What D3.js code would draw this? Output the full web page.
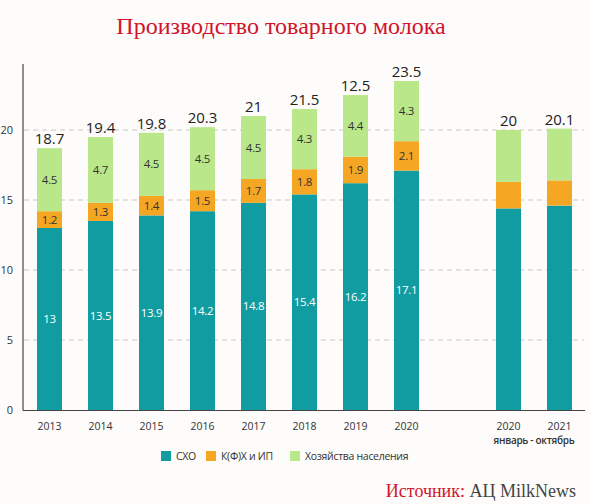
<!DOCTYPE html>
<html>
<head>
<meta charset="utf-8">
<script src="https://cdn.jsdelivr.net/npm/d3@7"></script>
<style>
  body { margin: 0; background: #fdfcfa; }
  svg { display: block; }
</style>
</head>
<body>
<svg id="plot"></svg>
<script>
// data
const categories = ["2013", "2014", "2015", "2016", "2017", "2018", "2019", "2020", "gap", "2020jo", "2021jo"];
const tickLabels = ["2013", "2014", "2015", "2016", "2017", "2018", "2019", "2020", "", "2020", "2021"];
const years = ["2013", "2014", "2015", "2016", "2017", "2018", "2019", "2020", "2020jo", "2021jo"];
const sho = [13, 13.5, 13.9, 14.2, 14.8, 15.4, 16.2, 17.1, 14.4, 14.6];
const kfh = [1.2, 1.3, 1.4, 1.5, 1.7, 1.8, 1.9, 2.1, 1.9, 1.8];
const hoz = [4.5, 4.7, 4.5, 4.5, 4.5, 4.3, 4.4, 4.3, 3.7, 3.7];
const totalLabels = ["18.7", "19.4", "19.8", "20.3", "21", "21.5", "12.5", "23.5", "20", "20.1"];
// segment labels shown only for full years
const showInner = [true, true, true, true, true, true, true, true, false, false];
const seriesNames = ["СХО", "К(Ф)Х и ИП", "Хозяйства населения"];
const colors = ["#109ca0", "#f5a623", "#b9e78a"];
const yTicks = [0, 5, 10, 15, 20];

let width = 590;
let height = 504;

let svg = d3.select('#plot')
    .attr('width', width)
    .attr('height', height)
    .style('background', '#fdfcfa');

let xScale = d3.scaleBand()
    .domain(categories)
    .range([24, 585])
    .paddingInner(0.51)
    .paddingOuter(0.255);

let yScale = d3.scaleLinear()
    .domain([0, 24.6])
    .range([410, 65.6]);

// gridlines
svg.append('g')
    .selectAll('line')
    .data(yTicks.filter(d => d > 0))
    .enter()
    .append('line')
    .attr('x1', 24)
    .attr('x2', 584)
    .attr('y1', d => yScale(d))
    .attr('y2', d => yScale(d))
    .attr('stroke', '#c8c8c8')
    .attr('stroke-width', 1)
    .attr('stroke-dasharray', '5,4');

// y tick labels
svg.append('g')
    .selectAll('text')
    .data(yTicks)
    .enter()
    .append('text')
    .attr('x', 13)
    .attr('y', d => yScale(d))
    .attr('dy', '0.35em')
    .attr('text-anchor', 'end')
    .style('font-family', 'Open Sans, sans-serif')
    .style('font-size', '11px')
    .style('fill', '#333')
    .text(d => d);

// stacked data
const rows = years.map((y, i) => ({ key: y, s0: sho[i], s1: kfh[i], s2: hoz[i], total: totalLabels[i], inner: showInner[i] }));
const stack = d3.stack().keys(['s0', 's1', 's2'])(rows);

let layers = svg.append('g')
    .selectAll('g')
    .data(stack)
    .enter()
    .append('g')
    .attr('fill', (d, i) => colors[i]);

layers.selectAll('rect')
    .data(d => d)
    .enter()
    .append('rect')
    .attr('x', d => xScale(d.data.key))
    .attr('y', d => yScale(d[1]))
    .attr('width', xScale.bandwidth())
    .attr('height', d => yScale(d[0]) - yScale(d[1]));

// segment labels
stack.forEach((layer, li) => {
    svg.append('g')
        .selectAll('text')
        .data(layer.filter(d => d.data.inner))
        .enter()
        .append('text')
        .attr('x', d => xScale(d.data.key) + xScale.bandwidth() / 2)
        .attr('y', d => yScale((d[0] + d[1]) / 2))
        .attr('dy', '0.35em')
        .attr('text-anchor', 'middle')
        .style('font-family', 'Open Sans, sans-serif')
        .style('font-size', '11.5px')
        .style('letter-spacing', '-0.3px')
        .style('fill', li === 0 ? '#ffffff' : '#333')
        .text(d => d.data['s' + li]);
});

// totals
svg.append('g')
    .selectAll('text')
    .data(stack[2])
    .enter()
    .append('text')
    .attr('x', d => xScale(d.data.key) + xScale.bandwidth() / 2)
    .attr('y', d => yScale(d[1]) - 4)
    .attr('text-anchor', 'middle')
    .style('font-family', 'Open Sans, sans-serif')
    .style('font-size', '15px')
    .style('fill', '#222')
    .text(d => d.data.total);

// axes lines
svg.append('line')
    .attr('x1', 23).attr('x2', 23)
    .attr('y1', 64).attr('y2', 410.5)
    .attr('stroke', '#444').attr('stroke-width', 1.2);
svg.append('line')
    .attr('x1', 23).attr('x2', 585)
    .attr('y1', 410.5).attr('y2', 410.5)
    .attr('stroke', '#444').attr('stroke-width', 1.2);

// x labels
svg.append('g')
    .selectAll('text')
    .data(categories)
    .enter()
    .append('text')
    .attr('x', d => xScale(d) + xScale.bandwidth() / 2)
    .attr('y', 426)
    .attr('dy', '0.35em')
    .attr('text-anchor', 'middle')
    .style('font-family', 'Open Sans, sans-serif')
    .style('font-size', '10.5px')
    .style('fill', '#333')
    .text((d, i) => tickLabels[i]);

svg.append('text')
    .attr('x', (xScale('2020jo') + xScale('2021jo') + xScale.bandwidth()) / 2)
    .attr('y', 440.5)
    .attr('dy', '0.35em')
    .attr('text-anchor', 'middle')
    .style('font-family', 'Open Sans, sans-serif')
    .style('font-size', '10px')
    .style('font-weight', '600')
    .style('letter-spacing', '-0.3px')
    .style('fill', '#333')
    .text('январь - октябрь');

// legend
let legend = svg.append('g').attr('transform', 'translate(161, 451)');
const legendX = [0, 45, 129];
seriesNames.forEach((name, i) => {
    legend.append('rect')
        .attr('x', legendX[i])
        .attr('y', 0)
        .attr('width', 10)
        .attr('height', 10)
        .style('fill', colors[i]);
    legend.append('text')
        .attr('x', legendX[i] + 15)
        .attr('y', 5)
        .attr('dy', '0.35em')
        .style('font-family', 'Open Sans, sans-serif')
        .style('font-size', '10.5px')
        .style('letter-spacing', '-0.3px')
        .style('fill', '#333')
        .text(name);
});

// title
svg.append('text')
    .attr('x', 281)
    .attr('y', 34)
    .attr('text-anchor', 'middle')
    .style('font-family', 'Liberation Serif, serif')
    .style('font-size', '24px')
    .style('fill', '#d0142c')
    .text('Производство товарного молока');

// source
let src = svg.append('text')
    .attr('x', 576)
    .attr('y', 497)
    .attr('text-anchor', 'end')
    .style('font-family', 'Liberation Serif, serif')
    .style('font-size', '18px');
src.append('tspan').style('fill', '#d0142c').text('Источник: ');
src.append('tspan').style('fill', '#444').text('АЦ MilkNews');
</script>
</body>
</html>
